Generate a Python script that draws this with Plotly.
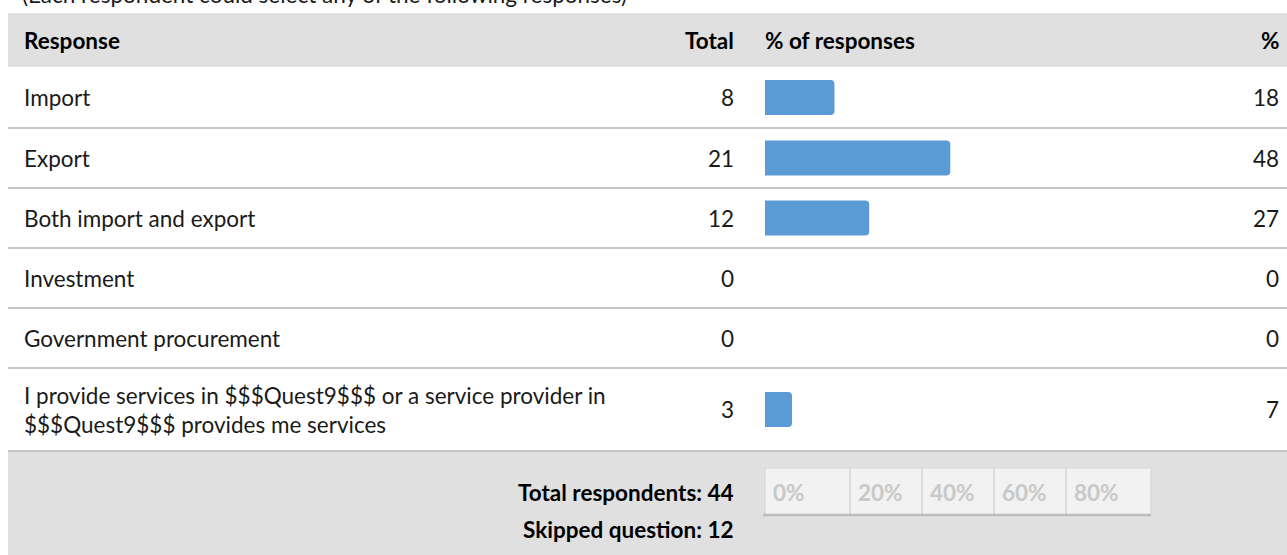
import plotly.graph_objects as go

# Survey responses
responses = [
    "Import",
    "Export",
    "Both import and export",
    "Investment",
    "Government procurement",
    "I provide services in $$$Quest9$$$ or a service provider in<br>$$$Quest9$$$ provides me services",
]
totals = [8, 21, 12, 0, 0, 3]
percents = [18, 48, 27, 0, 0, 7]
total_respondents = 44
skipped_question = 12
scale_labels = ["0%", "20%", "40%", "60%", "80%"]

# Page geometry (pixels)
W, H = 1287, 555
LEFT = 8
HEADER_TOP, HEADER_BOTTOM = 13, 67
row_edges = [67, 128, 188, 248, 308, 368, 451]
row_centers = [(a + b) / 2 for a, b in zip(row_edges[:-1], row_edges[1:])]
BAR_X0, BAR_X1 = 765, 1151
TEXT_LEFT = 22
TOTAL_RIGHT = 736
PCT_RIGHT = 1281

FONT = "Lato, 'Open Sans', sans-serif"
FS = 22.5
TEXT = "#1a1a1a"
GRID = "#c4c4c4"
BAND = "#e0e0e0"
BAR = "#5b9bd5"

fig = go.Figure()

fig.add_trace(go.Bar(
    x=percents,
    y=row_centers,
    orientation="h",
    width=35,
    marker=dict(color=BAR, line=dict(width=0)),
    xaxis="x2",
    yaxis="y",
    hoverinfo="skip",
    showlegend=False,
))

shapes = []
# header band and footer band
shapes.append(dict(type="rect", xref="x", yref="y", x0=LEFT, x1=W, y0=HEADER_TOP,
                   y1=HEADER_BOTTOM, fillcolor=BAND, line=dict(width=0), layer="below"))
shapes.append(dict(type="rect", xref="x", yref="y", x0=LEFT, x1=W, y0=row_edges[-1],
                   y1=H, fillcolor=BAND, line=dict(width=0), layer="below"))
# row separators
for yy in row_edges[1:]:
    shapes.append(dict(type="line", xref="x", yref="y", x0=LEFT, x1=W, y0=yy, y1=yy,
                       line=dict(color=GRID, width=2), layer="below"))

# percentage scale strip in the footer
SCALE_TOP, SCALE_BOTTOM = 468, 515
scale_cells = [765, 850, 922, 994, 1066, 1151]
shapes.append(dict(type="rect", xref="x", yref="y", x0=scale_cells[0], x1=scale_cells[-1],
                   y0=SCALE_TOP, y1=SCALE_BOTTOM, fillcolor="#f2f2f2",
                   line=dict(color="#d4d4d4", width=1), layer="below"))
for xx in scale_cells[1:-1]:
    shapes.append(dict(type="line", xref="x", yref="y", x0=xx, x1=xx, y0=SCALE_TOP,
                       y1=SCALE_BOTTOM, line=dict(color="#d4d4d4", width=1.5), layer="below"))
shapes.append(dict(type="line", xref="x", yref="y", x0=scale_cells[0] - 2, x1=scale_cells[-1],
                   y0=SCALE_BOTTOM, y1=SCALE_BOTTOM, line=dict(color="#bdbdbd", width=2.5),
                   layer="below"))

ann = []


def text(x, y, s, anchor="left", bold=False, color=TEXT, size=FS, yanchor="middle"):
    ann.append(dict(x=x, y=y, xref="x", yref="y", text=f"<b>{s}</b>" if bold else s,
                    showarrow=False, xanchor=anchor, yanchor=yanchor, align=anchor,
                    font=dict(family=FONT, size=size, color=color)))


# caption above the table (runs off the top edge)
text(TEXT_LEFT - 2, 10, "(Each respondent could select any of the following responses)",
     yanchor="bottom")

# header
hy = (HEADER_TOP + HEADER_BOTTOM) / 2
text(TEXT_LEFT, hy, "Response", bold=True, color="#000")
text(TOTAL_RIGHT, hy, "Total", anchor="right", bold=True, color="#000")
text(BAR_X0 - 2, hy, "% of responses", bold=True, color="#000")
text(PCT_RIGHT, hy, "%", anchor="right", bold=True, color="#000")

# rows
for label, tot, pct, cy in zip(responses, totals, percents, row_centers):
    text(TEXT_LEFT, cy, label)
    text(TOTAL_RIGHT, cy, str(tot), anchor="right")
    text(PCT_RIGHT, cy, str(pct), anchor="right")

# footer
text(TOTAL_RIGHT, 492, f"Total respondents: {total_respondents}", anchor="right", bold=True,
     color="#000")
text(TOTAL_RIGHT, 529, f"Skipped question: {skipped_question}", anchor="right", bold=True,
     color="#000")
for lbl, x0 in zip(scale_labels, scale_cells[:-1]):
    text(x0 + 6, 492, lbl, bold=True, color="#c8c8c8")

fig.update_layout(
    width=W, height=H,
    margin=dict(l=0, r=0, t=0, b=0),
    paper_bgcolor="white", plot_bgcolor="rgba(0,0,0,0)",
    barcornerradius=4,
    shapes=shapes,
    annotations=ann,
    xaxis=dict(range=[0, W], domain=[0, 1], visible=False, fixedrange=True),
    xaxis2=dict(range=[0, 100], domain=[BAR_X0 / W, BAR_X1 / W], anchor="y",
                visible=False, fixedrange=True),
    yaxis=dict(range=[H, 0], domain=[0, 1], visible=False, fixedrange=True),
    showlegend=False,
)

fig.write_html("out.html")
